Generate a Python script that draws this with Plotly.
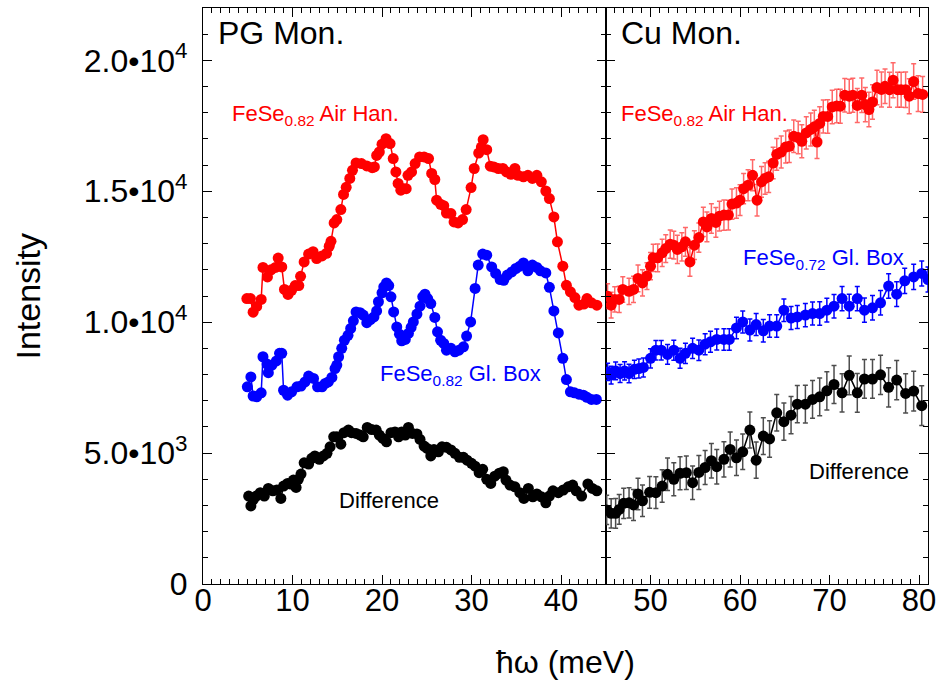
import plotly.graph_objects as go

# ---------------- data ----------------
# PG monochromator panel
red_pg_x = [4.9, 5.3, 5.6, 6.0, 6.5, 6.7, 7.2, 7.6, 8.1, 8.4,
            8.8, 9.1, 9.5, 9.9, 10.3, 10.7, 10.9, 11.3, 11.8, 12.3,
            12.7, 13.3, 13.8, 14.1, 14.3, 14.65, 14.95, 15.4, 15.7, 16.0,
            16.4, 16.7, 17.1, 17.7, 18.3, 18.9, 19.15, 19.4, 19.7, 20.0,
            20.45, 20.9, 21.25, 21.55, 21.8, 22.1, 22.4, 22.7, 22.9, 23.3,
            23.7, 24.2, 24.7, 25.2, 25.55, 25.9, 26.1, 26.55, 26.9, 27.2,
            27.7, 28.05, 28.5, 29.0, 29.4, 29.95, 30.3, 30.8, 31.1, 31.3,
            31.7, 32.1, 32.5, 33.0, 33.5, 33.9, 34.4, 34.85, 35.2, 35.8,
            36.3, 36.8, 37.3, 37.8, 38.3, 38.7, 39.2, 39.6, 40.2, 40.6,
            41.05, 41.55, 42.0, 42.55, 42.9, 43.4, 44.0]
red_pg_y = [10900, 10900, 10380, 10600, 10870, 12090, 11730, 12000, 12090, 12450,
            12110, 11250, 11060, 11220, 11400, 11400, 11750, 12300, 12600, 12690,
            12430, 12530, 12630, 12900, 13090, 13790, 13920, 14300, 14880, 15150,
            15490, 15800, 16080, 16060, 15970, 15900, 15930, 16370, 16500, 16800,
            17010, 16820, 16250, 15740, 15300, 15040, 15100, 15100, 15610, 15740,
            16060, 16310, 16310, 16250, 15680, 15450, 14660, 14500, 14450, 14170,
            14150, 13830, 13790, 13920, 14300, 15140, 15870, 16460, 16690, 16970,
            16590, 15960, 15930, 15870, 15870, 15740, 15650, 15870, 15610, 15550,
            15610, 15490, 15610, 15360, 15010, 14720, 14020, 13070, 12140, 11410,
            11160, 10940, 10650, 10690, 10900, 10740, 10650]

blue_pg_x = [4.95, 5.35, 5.6, 6.0, 6.5, 6.7, 7.15, 7.3, 7.7, 8.2,
             8.55, 8.8, 9.0, 9.45, 9.9, 10.5, 10.95, 11.4, 11.8, 12.35,
             12.8, 13.3, 13.65, 14.0, 14.4, 14.75, 14.95, 15.15, 15.5, 15.8,
             16.2, 16.5, 16.8, 17.1, 17.55, 17.9, 18.3, 18.7, 19.1, 19.4,
             19.6, 20.0, 20.2, 20.5, 20.75, 21.0, 21.3, 21.65, 21.95, 22.2,
             22.6, 22.95, 23.25, 23.5, 23.9, 24.25, 24.55, 24.8, 25.1, 25.45,
             25.9, 26.2, 26.55, 26.9, 27.2, 27.7, 28.15, 28.6, 29.1, 29.45,
             29.9, 30.4, 30.75, 31.25, 31.7, 32.25, 32.7, 33.2, 33.6, 34.0,
             34.5, 34.95, 35.4, 35.8, 36.3, 36.8, 37.3, 37.7, 38.3, 38.7,
             39.2, 39.7, 40.2, 40.6, 41.05, 41.5, 42.0, 42.5, 42.9, 43.4, 43.95]
blue_pg_y = [7530, 7910, 7180, 7150, 7300, 8680, 8400, 8070, 8360, 8520,
             8810, 8810, 7400, 7210, 7340, 7530, 7560, 7720, 7940, 7850,
             7530, 7530, 7660, 7720, 7890, 8230, 8360, 8680, 9000, 9310,
             9500, 9760, 10050, 10390, 10360, 10270, 9980, 10100, 10200, 10430,
             10780, 11120, 11350, 11500, 11400, 10970, 10390, 9820, 9540, 9290,
             9340, 9570, 9800, 10010, 10310, 10610, 10970, 11070, 10900, 10710,
             10180, 9630, 9310, 9190, 8930, 9000, 8870, 8930, 9060, 9470,
             10010, 11290, 12180, 12600, 12560, 12110, 11860, 11630, 11600, 11800,
             11920, 12050, 12140, 12260, 11960, 12180, 12090, 11960, 11880, 11330,
             10430, 9590, 8620, 7810, 7340, 7300, 7250, 7210, 7130, 7050, 7050]

diff_pg_x = [5.1, 5.35, 5.6, 5.95, 6.4, 6.85, 7.3, 7.8, 8.25, 8.7,
             9.0, 9.45, 9.8, 10.1, 10.4, 10.65, 10.95, 11.3, 11.8, 12.15,
             12.5, 13.0, 13.45, 13.85, 14.2, 14.6, 14.95, 15.4, 15.75, 16.25,
             16.6, 17.1, 17.55, 17.9, 18.35, 18.85, 19.35, 19.7, 20.1, 20.5,
             21.0, 21.45, 21.85, 22.2, 22.6, 22.95, 23.4, 23.9, 24.25, 24.7,
             25.05, 25.45, 25.8, 26.3, 26.7, 27.2, 27.7, 28.15, 28.65, 29.1,
             29.5, 30.0, 30.4, 30.85, 31.25, 31.7, 32.15, 32.6, 33.1, 33.55,
             33.85, 34.3, 34.85, 35.4, 35.85, 36.35, 36.85, 37.3, 37.8, 38.3,
             38.7, 39.1, 39.7, 40.25, 40.8, 41.3, 41.7, 42.3, 43.0, 43.5, 44.0]
diff_pg_y = [3360, 2980, 3210, 3360, 3490, 3360, 3650, 3560, 3590, 3270,
             3740, 3840, 3820, 3970, 3690, 4000, 4200, 4630, 4580, 4800,
             4890, 4760, 4890, 4990, 5240, 5620, 5620, 5340, 5780, 5880,
             5780, 5750, 5690, 5620, 5980, 5900, 5880, 5690, 5560, 5430,
             5780, 5810, 5620, 5810, 5690, 5980, 5750, 5730, 5520, 5270,
             5180, 4890, 5140, 5050, 5240, 5220, 5120, 4990, 4840, 4840,
             4730, 4610, 4500, 4250, 4380, 4000, 3840, 4120, 4230, 4290,
             3970, 3780, 3710, 3490, 3270, 3650, 3330, 3440, 3330, 3100,
             3360, 3560, 3490, 3590, 3710, 3780, 3560, 3360, 3820, 3650, 3560]

# Cu monochromator panel
red_cu_x = [45.2, 45.6, 46.0, 46.5, 46.9, 47.6, 48.1, 48.6, 49.1, 49.6,
            50.0, 50.3, 50.8, 51.3, 51.7, 52.2, 52.6, 53.0, 53.5, 53.9,
            54.4, 54.9, 55.4, 55.9, 56.3, 56.8, 57.3, 57.7, 58.2, 58.7,
            59.1, 59.6, 60.0, 60.4, 60.9, 61.4, 61.9, 62.4, 62.8, 63.2,
            63.7, 64.1, 64.6, 65.1, 65.5, 66.0, 66.5, 66.9, 67.4, 67.9,
            68.3, 68.6, 68.9, 69.3, 69.8, 70.3, 70.8, 71.2, 71.7, 72.2,
            72.6, 73.1, 73.6, 74.0, 74.4, 74.8, 75.3, 75.8, 76.2, 76.7,
            77.1, 77.6, 78.0, 78.5, 78.9, 79.4, 79.9, 80.4]
red_cu_y = [10990, 10650, 10870, 10870, 11250, 11180, 11250, 11670, 11500, 11760,
            12140, 12460, 12460, 12650, 12810, 12980, 12940, 12780, 12880, 13070,
            12300, 12940, 13230, 13830, 13640, 13960, 13810, 14050, 14090, 14090,
            14510, 14550, 14660, 15100, 15230, 15610, 14660, 15360, 15490, 15550,
            16080, 16410, 16500, 16690, 16720, 17100, 17050, 16910, 17230, 17360,
            17460, 16880, 17590, 17860, 17860, 18220, 18260, 18250, 18670, 18630,
            18670, 18280, 18670, 18310, 18120, 18410, 18960, 18890, 19010, 18880,
            19240, 18880, 18880, 18880, 18630, 19190, 18730, 18700]
red_cu_err = [480, 490, 480, 500, 490, 500, 500, 510, 500, 510,
              520, 520, 530, 520, 530, 540, 530, 540, 540, 550,
              550, 550, 560, 560, 570, 560, 570, 570, 580, 570,
              580, 580, 590, 580, 590, 590, 600, 590, 600, 600,
              600, 610, 610, 610, 620, 620, 620, 630, 620, 630,
              630, 630, 640, 630, 640, 640, 640, 650, 640, 650,
              650, 650, 660, 650, 660, 660, 660, 670, 660, 670,
              670, 670, 670, 680, 670, 680, 680, 680]

blue_cu_x = [45.2, 45.6, 46.1, 46.6, 47.1, 47.6, 48.2, 48.7, 49.2, 50.0,
             50.6, 51.2, 51.9, 52.6, 53.3, 53.9, 54.7, 55.4, 56.1, 56.7,
             57.4, 58.2, 58.8, 59.6, 60.3, 61.1, 61.8, 62.6, 63.3, 64.1,
             64.9, 65.7, 66.4, 67.3, 68.1, 68.9, 69.7, 70.5, 71.4, 72.2,
             73.1, 73.9, 74.8, 75.7, 76.6, 77.5, 78.4, 79.4, 80.3, 81.0]
blue_cu_y = [8100, 7980, 8140, 8040, 8140, 8040, 8200, 8230, 8270, 8620,
             8930, 8930, 8770, 8930, 8620, 8810, 9000, 8930, 9160, 9250,
             9340, 9340, 9340, 9780, 10010, 9700, 9910, 9670, 9850, 9850,
             10460, 10160, 10200, 10270, 10330, 10330, 10460, 10610, 10900, 10610,
             10900, 10460, 10550, 10740, 11380, 11070, 11580, 11730, 11860, 11630]
blue_cu_err = [330, 340, 340, 340, 350, 350, 350, 360, 360, 370,
               370, 370, 380, 380, 380, 390, 390, 390, 400, 400,
               400, 410, 410, 410, 420, 420, 420, 430, 430, 430,
               430, 440, 440, 440, 440, 450, 450, 450, 460, 460,
               460, 460, 470, 470, 470, 470, 480, 480, 480, 480]

diff_cu_x = [45.1, 45.6, 46.1, 46.5, 47.0, 47.6, 48.1, 48.6, 49.1, 49.9,
             50.6, 51.3, 51.9, 52.6, 53.3, 54.0, 54.7, 55.4, 56.1, 56.8,
             57.4, 58.2, 58.9, 59.6, 60.3, 61.1, 61.8, 62.6, 63.3, 64.1,
             64.9, 65.7, 66.4, 67.3, 68.1, 68.9, 69.7, 70.5, 71.4, 72.2,
             73.1, 73.9, 74.8, 75.7, 76.6, 77.5, 78.5, 79.4, 80.3]
diff_cu_y = [2830, 2700, 2700, 2850, 3080, 3100, 3020, 3440, 3180, 3500,
             3490, 3740, 4190, 4000, 4230, 4250, 3870, 4260, 4450, 4710,
             4480, 4760, 5140, 4820, 5050, 5880, 4730, 5650, 5540, 6540,
             6200, 6450, 6870, 6870, 7050, 7150, 7380, 7620, 7300, 7970,
             7300, 7830, 7830, 7990, 7510, 7790, 7280, 7370, 6810]
diff_cu_err = [560, 560, 570, 570, 580, 580, 590, 600, 600, 610,
               610, 620, 620, 630, 630, 640, 640, 650, 650, 660,
               660, 670, 670, 680, 680, 690, 690, 700, 700, 700,
               710, 710, 710, 720, 720, 720, 730, 730, 730, 740,
               740, 740, 740, 750, 750, 750, 750, 760, 760]

y_tickvals = [0, 5000, 10000, 15000, 20000]
y_ticktext = ["0", "5.0\u202210<sup>3</sup>", "1.0\u202210<sup>4</sup>",
              "1.5\u202210<sup>4</sup>", "2.0\u202210<sup>4</sup>"]
x1_tickvals = [0, 10, 20, 30, 40]
x2_tickvals = [50, 60, 70, 80]

# ---------------- figure ----------------
FONT = "Liberation Sans, Arial, Helvetica, sans-serif"
RED, BLUE, BLACK = "#ff0000", "#0000ff", "#000000"
MS = 11

fig = go.Figure()

def add(x, y, color, xa, ya, err=None, errcolor=None):
    kw = {}
    if err is not None:
        kw["error_y"] = dict(type="data", array=err, visible=True,
                             color=errcolor, thickness=1.5, width=2.5)
    fig.add_trace(go.Scatter(x=x, y=y, mode="lines+markers", xaxis=xa, yaxis=ya,
                             line=dict(color=color, width=1.5),
                             marker=dict(color=color, size=MS, line=dict(width=0)),
                             showlegend=False, **kw))

add(red_pg_x, red_pg_y, RED, "x", "y")
add(blue_pg_x, blue_pg_y, BLUE, "x", "y")
add(diff_pg_x, diff_pg_y, BLACK, "x", "y")
add(red_cu_x, red_cu_y, RED, "x2", "y2", red_cu_err, "rgba(255,40,40,0.7)")
add(blue_cu_x, blue_cu_y, BLUE, "x2", "y2", blue_cu_err, BLUE)
add(diff_cu_x, diff_cu_y, BLACK, "x2", "y2", diff_cu_err, "#4d4d4d")

split = 45.0 / 81.0
tickfont = dict(family=FONT, size=31, color="black")
LW = 1.2
common_x = dict(showline=True, linecolor="black", linewidth=LW, mirror="allticks",
                ticks="inside", ticklen=9, tickwidth=1.2, tickcolor="black",
                showgrid=False, zeroline=False, tickfont=tickfont,
                ticklabelstandoff=-11,
                minor=dict(ticks="inside", dtick=1, ticklen=5, tickwidth=1, tickcolor="black",
                           showgrid=False))
common_y = dict(showline=True, linecolor="black", linewidth=LW, mirror="allticks",
                ticks="inside", ticklen=9, tickwidth=1.2, tickcolor="black",
                showgrid=False, zeroline=False, range=[0, 22000],
                minor=dict(ticks="inside", dtick=1000, tick0=0, ticklen=5, tickwidth=1,
                           tickcolor="black", showgrid=False))

fig.update_layout(
    width=946, height=694,
    margin=dict(l=203, r=18, t=8, b=110),
    paper_bgcolor="white", plot_bgcolor="white",
    font=dict(family=FONT, color="black"),
    xaxis=dict(domain=[0, split], range=[0, 45], tickmode="array",
               tickvals=x1_tickvals, anchor="y", **common_x),
    xaxis2=dict(domain=[split, 1], range=[45, 81], tickmode="array",
                tickvals=x2_tickvals, anchor="y2", **common_x),
    yaxis=dict(anchor="x", tickmode="array", tickvals=y_tickvals, ticktext=y_ticktext,
               tickfont=dict(family=FONT, size=32, color="black"),
               ticklabelstandoff=8, **common_y),
    yaxis2=dict(anchor="x2", matches="y", showticklabels=False, **common_y),
)

def ann(text, x, y, xref, size, color="black"):
    fig.add_annotation(text=text, x=x, y=y, xref=xref, yref="y", showarrow=False,
                       xanchor="left", yanchor="middle",
                       font=dict(family=FONT, size=size, color=color))

ann("PG Mon.", 1.5, 21050, "x", 32)
ann("Cu Mon.", 46.5, 21050, "x2", 32)
ann("FeSe<sub>0.82</sub> Air Han.", 3.0, 17900, "x", 22, RED)
ann("FeSe<sub>0.82</sub> Air Han.", 46.5, 17900, "x2", 22, RED)
ann("FeSe<sub>0.82</sub> Gl. Box", 19.5, 7980, "x", 22, BLUE)
ann("FeSe<sub>0.72</sub> Gl. Box", 60.1, 12400, "x2", 22, BLUE)
ann("Difference", 15.0, 3200, "x", 22)
ann("Difference", 67.5, 4300, "x2", 22)

# axis titles
fig.add_annotation(text="\u0127\u03c9 (meV)", x=0.5, y=-0.135, xref="paper", yref="paper",
                   showarrow=False, xanchor="center", yanchor="middle",
                   font=dict(family=FONT, size=32, color="black"))
fig.add_annotation(text="Intensity", x=-0.242, y=0.5, xref="paper", yref="paper",
                   showarrow=False, textangle=-90, xanchor="center", yanchor="middle",
                   font=dict(family=FONT, size=34, color="black"))

fig.write_html("out.html")
